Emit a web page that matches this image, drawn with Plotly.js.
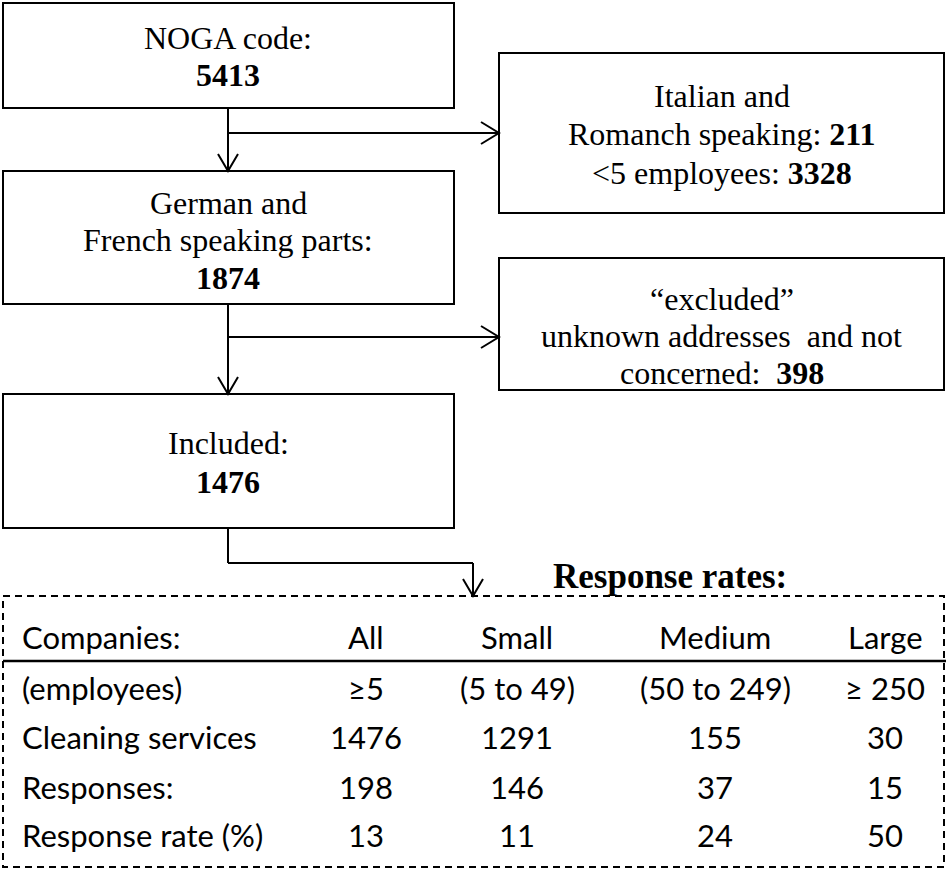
<!DOCTYPE html>
<html>
<head>
<meta charset="utf-8">
<script src="https://cdn.plot.ly/plotly-3.0.1.min.js"></script>
<style>html,body{margin:0;padding:0;background:#fff;}#chart{width:946px;height:871px;}</style>
</head>
<body>
<div id="chart"></div>
<script>
// ---- data ----
var nogaCount = 5413;
var germanFrenchCount = 1874;
var italianRomanchCount = 211;
var under5Count = 3328;
var excludedCount = 398;
var includedCount = 1476;

var tableTitle = "Response rates:";
var rowLabels = ["Companies:", "(employees)", "Cleaning services", "Responses:", "Response rate (%)"];
var companySizes = ["All", "Small", "Medium", "Large"];
var employeeRanges = ["≥5", "(5 to 49)", "(50 to 249)", "≥ 250"];
var cleaningServices = [1476, 1291, 155, 30];
var responses = [198, 146, 37, 15];
var responseRate = [13, 11, 24, 50];

// ---- layout helpers ----
var SERIF = "Liberation Serif, Times New Roman, serif";
var SANS = "Lato, Open Sans, sans-serif";
var shapes = [];
var ann = [];
var LW = 2;

function rect(x0, y0, x1, y1) {
  shapes.push({type: "rect", xref: "x", yref: "y", x0: x0, y0: y0, x1: x1, y1: y1,
    line: {color: "#000", width: LW}, fillcolor: "rgba(0,0,0,0)"});
}
function seg(x0, y0, x1, y1, w) {
  shapes.push({type: "line", xref: "x", yref: "y", x0: x0, y0: y0, x1: x1, y1: y1,
    line: {color: "#000", width: w || LW}});
}
function headDown(x, y) {
  shapes.push({type: "path", xref: "x", yref: "y",
    path: "M" + (x - 10) + "," + (y - 17) + " L" + x + "," + y + " L" + (x + 10) + "," + (y - 17),
    line: {color: "#000", width: LW}});
}
function headRight(x, y) {
  shapes.push({type: "path", xref: "x", yref: "y",
    path: "M" + (x - 18) + "," + (y - 11) + " L" + x + "," + y + " L" + (x - 18) + "," + (y + 11),
    line: {color: "#000", width: LW}});
}
function txt(x, y, t, fam, size, anchor) {
  ann.push({xref: "x", yref: "y", x: x, y: y, text: t, showarrow: false,
    xanchor: anchor || "center", yanchor: "middle",
    font: {family: fam, size: size, color: "#000"}});
}

// boxes
var LX0 = 3, LX1 = 454, CX = 228;
var RX0 = 499, RX1 = 944;
rect(LX0, 3, LX1, 108);     // NOGA
rect(LX0, 171, LX1, 304);   // German/French
rect(LX0, 394, LX1, 528);   // Included
rect(RX0, 53, RX1, 213);    // Italian
rect(RX0, 258, RX1, 390);   // excluded

// connectors
seg(CX, 108, CX, 171); headDown(CX, 171);
seg(CX, 133, RX0, 133); headRight(RX0, 133);
seg(CX, 304, CX, 394); headDown(CX, 394);
seg(CX, 337, RX0, 337); headRight(RX0, 337);
seg(CX, 528, CX, 563); seg(CX, 563, 473, 563); seg(473, 563, 473, 596); headDown(473, 596);

// dashed table frame
shapes.push({type: "rect", xref: "x", yref: "y", x0: 3, y0: 596, x1: 944, y1: 867,
  line: {color: "#000", width: LW, dash: "7px,5px"}, fillcolor: "rgba(0,0,0,0)"});
seg(3, 661, 946, 661, 2.5);

// flow texts
var FS = 32;
txt(CX, 38, "NOGA code:", SERIF, FS);
txt(CX, 75, "<b>" + nogaCount + "</b>", SERIF, FS);
txt(CX, 203, "German and", SERIF, FS);
txt(CX, 240, "French speaking parts:", SERIF, FS);
txt(CX, 278, "<b>" + germanFrenchCount + "</b>", SERIF, FS);
txt(CX, 443, "Included:", SERIF, FS);
txt(CX, 482, "<b>" + includedCount + "</b>", SERIF, FS);
var RCX = (RX0 + RX1) / 2;
txt(RCX, 96, "Italian and", SERIF, FS);
txt(RCX, 134, "Romanch speaking: <b>" + italianRomanchCount + "</b>", SERIF, FS);
txt(RCX, 173, "&lt;5 employees: <b>" + under5Count + "</b>", SERIF, FS);
txt(RCX, 299, "“excluded”", SERIF, FS);
txt(RCX, 336, "unknown addresses  and not", SERIF, FS);
txt(RCX, 373, "concerned:  <b>" + excludedCount + "</b>", SERIF, FS);

// table
txt(670, 576, "<b>" + tableTitle + "</b>", SERIF, 35);
var colX = [366, 517, 715, 885];
var rowY = [637, 688, 737, 787, 835];
var TS = 31;
var rows = [companySizes, employeeRanges, cleaningServices, responses, responseRate];
for (var r = 0; r < rows.length; r++) {
  txt(20, rowY[r], rowLabels[r], SANS, TS, "left");
  for (var c = 0; c < colX.length; c++) {
    txt(colX[c], rowY[r], String(rows[r][c]), SANS, TS);
  }
}

var layout = {
  width: 946, height: 871,
  margin: {l: 0, r: 0, t: 0, b: 0},
  paper_bgcolor: "#fff", plot_bgcolor: "#fff",
  xaxis: {range: [0, 946], visible: false, fixedrange: true},
  yaxis: {range: [871, 0], visible: false, fixedrange: true},
  showlegend: false,
  shapes: shapes,
  annotations: ann
};
Plotly.newPlot("chart", [{x: [], y: [], type: "scatter"}], layout, {staticPlot: true, displayModeBar: false});
</script>
</body>
</html>
